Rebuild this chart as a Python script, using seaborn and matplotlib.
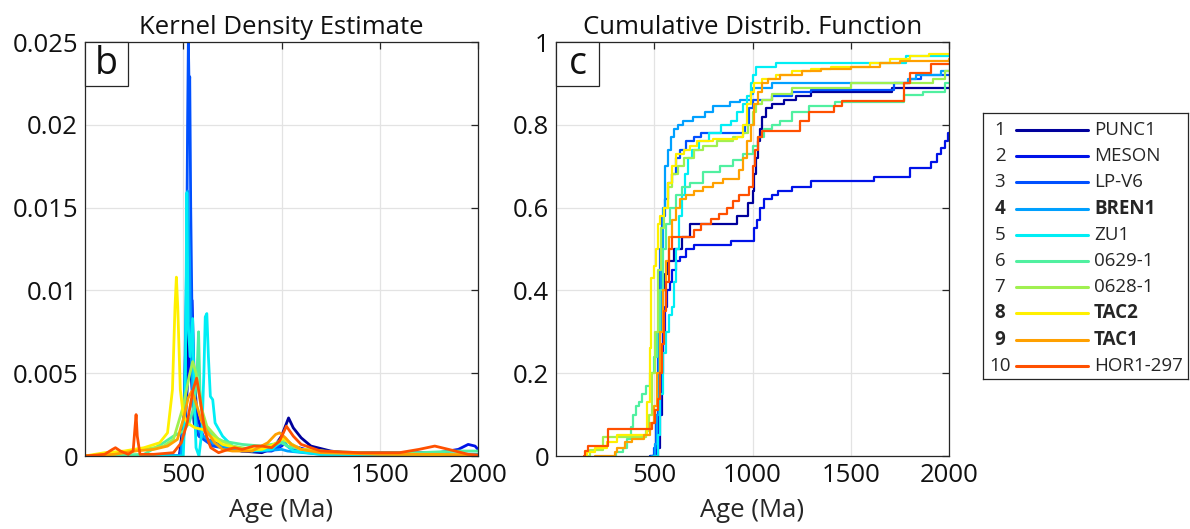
import numpy as np
import pandas as pd
import matplotlib
matplotlib.use("Agg")
import matplotlib.pyplot as plt
from matplotlib.patches import Rectangle
import seaborn as sns

# ---------------- data ----------------
SAMPLES = ["PUNC1", "MESON", "LP-V6", "BREN1", "ZU1", "0629-1", "0628-1", "TAC2", "TAC1", "HOR1-297"]
BOLD = ["BREN1", "TAC2", "TAC1"]
COLORS = ["#00009C", "#0012E8", "#0050FF", "#00A0FF", "#00EEF5",
          "#50F0A0", "#A0F050", "#FFF000", "#FFA000", "#FF5000"]

# Kernel density estimate: (age Ma, density)
KDE_PUNC1 = [(0, 0), (480, 0), (500, 0.002), (520, 0.006), (530, 0.008), (540, 0.005), (555, 0.002),
             (580, 0.0012), (620, 0.001), (700, 0.0006), (800, 0.0003), (900, 0.0002), (960, 0.0005),
             (1000, 0.0012), (1036, 0.0023), (1060, 0.0017), (1100, 0.0011), (1150, 0.0006),
             (1250, 0.0003), (1400, 0.0001), (1600, 0.00005), (2000, 0)]
KDE_MESON = [(0, 0), (490, 0), (510, 0.002), (530, 0.006), (545, 0.0094), (555, 0.005), (570, 0.0025),
             (600, 0.0012), (650, 0.0008), (700, 0.0005), (800, 0.0003), (950, 0.0003), (1000, 0.0006),
             (1030, 0.0009), (1060, 0.0006), (1150, 0.0003), (1300, 0.0002), (1500, 0.0002),
             (1800, 0.0002), (1900, 0.0004), (1950, 0.0007), (1985, 0.0006), (2000, 0.0004)]
KDE_LPV6 = [(0, 0), (480, 0), (500, 0.001), (515, 0.008), (522, 0.02), (526, 0.025), (530, 0.022),
            (533, 0.0229), (538, 0.015), (545, 0.008), (555, 0.003), (580, 0.0012), (650, 0.0006),
            (800, 0.0003), (980, 0.0005), (1010, 0.0008), (1040, 0.0005), (1200, 0.0002), (2000, 0.0001)]
KDE_BREN1 = [(0, 0), (490, 0), (505, 0.003), (515, 0.01), (522, 0.016), (527, 0.014), (532, 0.012),
             (538, 0.007), (550, 0.003), (570, 0.0018), (600, 0.0012), (650, 0.0008), (750, 0.0004),
             (900, 0.0003), (1000, 0.0004), (1030, 0.0003), (1200, 0.0001), (2000, 0.0001)]
KDE_ZU1 = [(0, 0), (500, 0), (510, 0.003), (518, 0.0159), (525, 0.008), (535, 0.006), (548, 0.0083),
           (555, 0.004), (565, 0.0005), (580, 0.0), (595, 0.0015), (605, 0.005), (612, 0.0084),
           (620, 0.0086), (628, 0.006), (638, 0.0036), (650, 0.0034), (662, 0.002), (700, 0.0012),
           (750, 0.0006), (850, 0.0003), (950, 0.0004), (1000, 0.0009), (1020, 0.0007), (1060, 0.0003),
           (1200, 0.0001), (2000, 0)]
KDE_0629 = [(0, 0), (300, 0.0001), (400, 0.0008), (450, 0.0012), (500, 0.0015), (530, 0.002),
            (555, 0.003), (570, 0.005), (578, 0.0075), (585, 0.004), (600, 0.002), (650, 0.0012),
            (700, 0.0009), (800, 0.0007), (900, 0.0006), (1000, 0.0008), (1030, 0.0006), (1100, 0.0004),
            (1200, 0.0003), (1400, 0.0002), (1700, 0.0002), (1900, 0.0003), (2000, 0.0003)]
KDE_0628 = [(0, 0), (200, 0.0002), (300, 0.0004), (400, 0.0006), (450, 0.001), (500, 0.003),
            (530, 0.0048), (548, 0.0057), (565, 0.005), (590, 0.003), (620, 0.0018), (680, 0.001),
            (750, 0.0006), (850, 0.0004), (950, 0.0006), (1000, 0.001), (1040, 0.0008), (1100, 0.0004),
            (1300, 0.0002), (1600, 0.0001), (1900, 0.0001), (2000, 0)]
KDE_TAC2 = [(0, 0), (100, 0.0002), (200, 0.0003), (300, 0.0005), (380, 0.0008), (420, 0.0014),
            (445, 0.004), (458, 0.009), (465, 0.0108), (472, 0.009), (485, 0.004), (500, 0.0025),
            (520, 0.002), (560, 0.0017), (600, 0.0016), (640, 0.0012), (700, 0.0007), (800, 0.0004),
            (900, 0.0004), (980, 0.0008), (1010, 0.0011), (1050, 0.0007), (1100, 0.0004),
            (1300, 0.0002), (1700, 0.0001), (2000, 0)]
KDE_TAC1 = [(0, 0), (150, 0.0001), (250, 0.0003), (350, 0.0004), (420, 0.0006), (470, 0.001),
            (500, 0.0022), (525, 0.0035), (543, 0.0039), (560, 0.0034), (590, 0.0022), (620, 0.0015),
            (660, 0.0008), (700, 0.0004), (750, 0.0003), (850, 0.0003), (930, 0.0008), (970, 0.0013),
            (990, 0.0014), (1020, 0.0011), (1050, 0.0007), (1100, 0.0004), (1200, 0.0002),
            (1500, 0.0001), (1800, 0.0001), (2000, 0.00005)]
KDE_HOR1 = [(0, 0), (100, 0.0001), (140, 0.0004), (155, 0.0005), (180, 0.0003), (220, 0.0001),
            (245, 0.0003), (255, 0.0018), (260, 0.0025), (266, 0.0012), (280, 0.0001), (350, 0.0001),
            (450, 0.0002), (490, 0.0008), (520, 0.002), (550, 0.004), (568, 0.0047), (585, 0.0035),
            (610, 0.0015), (640, 0.0005), (680, 0.0002), (730, 0.0004), (760, 0.0005), (800, 0.0004),
            (860, 0.0006), (900, 0.0006), (950, 0.0005), (990, 0.0009), (1025, 0.0018), (1060, 0.0012),
            (1100, 0.0007), (1200, 0.0003), (1400, 0.0002), (1600, 0.0002), (1700, 0.0004),
            (1780, 0.0006), (1850, 0.0004), (1950, 0.0001), (2000, 0.00005)]

# Cumulative distribution: (age Ma, cumulative fraction) step points
CDF_PUNC1 = [(480, 0), (520, 0.02), (530, 0.1), (538, 0.25), (545, 0.4), (555, 0.44), (570, 0.47),
             (600, 0.5), (640, 0.53), (680, 0.56), (900, 0.56), (920, 0.58), (975, 0.61), (1000, 0.64),
             (1010, 0.68), (1020, 0.72), (1030, 0.76), (1040, 0.79), (1050, 0.82), (1070, 0.84),
             (1100, 0.85), (1160, 0.86), (1220, 0.87), (1300, 0.88), (1710, 0.89), (2000, 0.89)]
CDF_MESON = [(490, 0), (515, 0.02), (525, 0.1), (535, 0.2), (545, 0.3), (555, 0.36), (565, 0.4),
             (580, 0.42), (590, 0.45), (610, 0.47), (630, 0.48), (660, 0.5), (700, 0.51), (890, 0.52),
             (1010, 0.55), (1025, 0.57), (1040, 0.6), (1060, 0.62), (1100, 0.63), (1130, 0.64),
             (1200, 0.65), (1300, 0.665), (1620, 0.675), (1800, 0.695), (1910, 0.71), (1940, 0.73),
             (1960, 0.745), (1980, 0.76), (1995, 0.78), (2000, 0.78)]
CDF_LPV6 = [(480, 0), (500, 0.02), (510, 0.1), (520, 0.3), (530, 0.5), (540, 0.58), (555, 0.62),
            (570, 0.66), (590, 0.68), (610, 0.72), (630, 0.74), (660, 0.76), (700, 0.77), (740, 0.78),
            (960, 0.8), (980, 0.84), (1000, 0.86), (1100, 0.87), (1200, 0.88), (1300, 0.885),
            (1720, 0.9), (1800, 0.91), (1860, 0.92), (2000, 0.92)]
CDF_BREN1 = [(490, 0), (505, 0.03), (515, 0.1), (525, 0.3), (535, 0.5), (545, 0.6), (555, 0.7),
             (570, 0.74), (585, 0.77), (600, 0.79), (620, 0.8), (646, 0.81), (697, 0.82), (760, 0.83),
             (800, 0.845), (886, 0.855), (937, 0.86), (990, 0.875), (1003, 0.89), (1100, 0.9),
             (1790, 0.91), (1830, 0.92), (1960, 0.93), (2000, 0.93)]
CDF_ZU1 = [(500, 0), (520, 0.05), (530, 0.15), (545, 0.25), (560, 0.3), (575, 0.34), (590, 0.36),
           (600, 0.42), (610, 0.5), (625, 0.58), (640, 0.63), (655, 0.68), (670, 0.72), (690, 0.74),
           (730, 0.76), (780, 0.78), (840, 0.8), (890, 0.81), (920, 0.83), (950, 0.85), (970, 0.87),
           (990, 0.9), (1005, 0.92), (1018, 0.94), (1120, 0.95), (1780, 0.965), (2000, 0.97)]
CDF_0629 = [(300, 0), (305, 0.01), (340, 0.02), (360, 0.04), (380, 0.07), (390, 0.1), (405, 0.12),
            (420, 0.13), (440, 0.15), (460, 0.17), (480, 0.2), (500, 0.24), (515, 0.3), (530, 0.4),
            (545, 0.5), (560, 0.56), (580, 0.6), (610, 0.63), (640, 0.65), (680, 0.66), (750, 0.685),
            (835, 0.7), (900, 0.715), (950, 0.73), (1000, 0.75), (1030, 0.77), (1060, 0.79),
            (1100, 0.8), (1140, 0.81), (1200, 0.83), (1290, 0.845), (1420, 0.855), (1770, 0.872),
            (1870, 0.88), (1980, 0.9), (2000, 0.9)]
CDF_0628 = [(170, 0), (175, 0.015), (240, 0.045), (460, 0.06), (475, 0.1), (490, 0.2), (505, 0.3),
            (520, 0.45), (535, 0.55), (550, 0.6), (570, 0.65), (590, 0.68), (620, 0.7), (650, 0.72),
            (700, 0.74), (750, 0.75), (820, 0.76), (900, 0.77), (950, 0.78), (975, 0.8), (1000, 0.83),
            (1020, 0.85), (1050, 0.86), (1100, 0.875), (1200, 0.89), (1500, 0.9), (1920, 0.91),
            (1980, 0.93), (2000, 0.93)]
CDF_TAC2 = [(150, 0), (160, 0.01), (200, 0.02), (260, 0.034), (310, 0.05), (465, 0.13), (478, 0.26),
            (486, 0.43), (500, 0.46), (510, 0.5), (520, 0.56), (530, 0.58), (550, 0.6), (570, 0.66),
            (590, 0.7), (610, 0.73), (650, 0.74), (680, 0.75), (720, 0.76), (800, 0.765), (920, 0.77),
            (950, 0.8), (970, 0.85), (990, 0.88), (1010, 0.9), (1050, 0.91), (1120, 0.92),
            (1200, 0.93), (1300, 0.935), (1400, 0.94), (1600, 0.95), (1700, 0.96), (1800, 0.965),
            (1900, 0.97), (2000, 0.97)]
CDF_TAC1 = [(200, 0), (300, 0.01), (310, 0.02), (350, 0.034), (385, 0.042), (450, 0.05), (480, 0.08),
            (500, 0.12), (515, 0.2), (530, 0.3), (545, 0.4), (560, 0.47), (575, 0.53), (590, 0.57),
            (610, 0.6), (630, 0.62), (660, 0.63), (700, 0.64), (750, 0.65), (800, 0.66), (850, 0.67),
            (930, 0.69), (950, 0.72), (970, 0.76), (990, 0.8), (1010, 0.85), (1030, 0.88),
            (1050, 0.9), (1080, 0.91), (1140, 0.92), (1250, 0.93), (1350, 0.935), (1500, 0.94),
            (1650, 0.95), (1750, 0.955), (2000, 0.96)]
CDF_HOR1 = [(140, 0), (148, 0.012), (165, 0.024), (264, 0.065), (490, 0.08), (505, 0.11),
            (519, 0.137), (529, 0.2), (540, 0.27), (550, 0.35), (560, 0.42), (575, 0.5), (590, 0.53),
            (700, 0.545), (740, 0.56), (790, 0.573), (830, 0.585), (870, 0.6), (900, 0.615),
            (930, 0.63), (980, 0.65), (1000, 0.7), (1015, 0.74), (1030, 0.77), (1050, 0.785),
            (1240, 0.81), (1290, 0.83), (1416, 0.846), (1457, 0.858), (1770, 0.9), (1800, 0.924),
            (1910, 0.948), (2000, 0.948)]

KDE_LIST = [KDE_PUNC1, KDE_MESON, KDE_LPV6, KDE_BREN1, KDE_ZU1, KDE_0629, KDE_0628, KDE_TAC2, KDE_TAC1, KDE_HOR1]
CDF_LIST = [CDF_PUNC1, CDF_MESON, CDF_LPV6, CDF_BREN1, CDF_ZU1, CDF_0629, CDF_0628, CDF_TAC2, CDF_TAC1, CDF_HOR1]

KDE_YTICKS = [0, 0.005, 0.01, 0.015, 0.02, 0.025]
KDE_YLABELS = ["0", "0.005", "0.01", "0.015", "0.02", "0.025"]
CDF_YTICKS = [0, 0.2, 0.4, 0.6, 0.8, 1.0]
CDF_YLABELS = ["0", "0.2", "0.4", "0.6", "0.8", "1"]
XTICKS = [500, 1000, 1500, 2000]

# ---------------- style ----------------
sns.set_style("white")
plt.rcParams["font.family"] = ["Open Sans", "DejaVu Sans"]
plt.rcParams.update({
    "axes.edgecolor": "#262626",
    "axes.linewidth": 0.9,
    "xtick.direction": "in",
    "ytick.direction": "in",
    "xtick.top": True,
    "ytick.right": True,
    "xtick.major.size": 5,
    "ytick.major.size": 5,
    "xtick.color": "#262626",
    "ytick.color": "#262626",
    "text.color": "#111111",
})

def to_df(lst):
    frames = []
    for name, pts in zip(SAMPLES, lst):
        d = pd.DataFrame(pts, columns=["age", "val"])
        d["sample"] = name
        frames.append(d)
    return pd.concat(frames, ignore_index=True)

kde_df = to_df(KDE_LIST)
cdf_df = to_df(CDF_LIST)
palette = dict(zip(SAMPLES, COLORS))

fig = plt.figure(figsize=(11.9, 5.29), dpi=100)
W, H = 1190, 529
ax1 = fig.add_axes([85 / W, (H - 456) / H, 393 / W, 414 / H])
ax2 = fig.add_axes([556 / W, (H - 456) / H, 393 / W, 414 / H])

for name in SAMPLES:
    sns.lineplot(data=kde_df[kde_df["sample"] == name], x="age", y="val", color=palette[name],
                 lw=2.0, ax=ax1, sort=False, estimator=None)
    sns.lineplot(data=cdf_df[cdf_df["sample"] == name], x="age", y="val", color=palette[name],
                 lw=1.6, ax=ax2, sort=False, estimator=None, drawstyle="steps-post")

FS = 18.5
for ax, yt, yl, title, letter, ylim in [
        (ax1, KDE_YTICKS, KDE_YLABELS, "Kernel Density Estimate", "b", (0, 0.025)),
        (ax2, CDF_YTICKS, CDF_YLABELS, "Cumulative Distrib. Function", "c", (0, 1))]:
    ax.set_xlim(0, 2000)
    ax.set_ylim(*ylim)
    ax.set_xticks(XTICKS)
    ax.set_xticklabels([str(t) for t in XTICKS])
    ax.set_yticks(yt)
    ax.set_yticklabels(yl)
    ax.tick_params(labelsize=FS, pad=5, width=0.9, labelcolor="#111111")
    ax.grid(True, color="#e3e3e3", lw=0.9)
    ax.set_axisbelow(True)
    ax.set_xlabel("Age (Ma)", fontsize=FS, labelpad=7)
    ax.set_ylabel("")
    ax.set_title(title, fontsize=FS, pad=6)
    for s in ax.spines.values():
        s.set_visible(True)
        s.set_zorder(5)
    bw, bh = 43 / 393, 44 / 414
    ax.add_patch(Rectangle((0, 1 - bh), bw, bh, transform=ax.transAxes, facecolor="white",
                           edgecolor="#262626", lw=0.9, zorder=6, clip_on=False))
    ax.text(bw / 2, 1 - bh / 2, letter, transform=ax.transAxes, ha="center", va="center",
            fontsize=27, zorder=7)

# legend box
axl = fig.add_axes([983 / W, (H - 379) / H, 205 / W, 266 / H])
axl.set_xlim(0, 205)
axl.set_ylim(266, 0)
axl.set_xticks([])
axl.set_yticks([])
for s in axl.spines.values():
    s.set_visible(True)
    s.set_color("#262626")
    s.set_linewidth(0.9)
for i, (name, col) in enumerate(zip(SAMPLES, COLORS)):
    y = 17 + i * 26.2
    fw = "bold" if name in BOLD else "normal"
    axl.text(17, y, str(i + 1), ha="center", va="center", fontsize=13.5, fontweight=fw, color="#262626")
    axl.plot([33, 105], [y, y], color=col, lw=2.2)
    axl.text(111, y, name, ha="left", va="center", fontsize=13.5, fontweight=fw, color="#262626")

fig.savefig("out.png", dpi=100)
